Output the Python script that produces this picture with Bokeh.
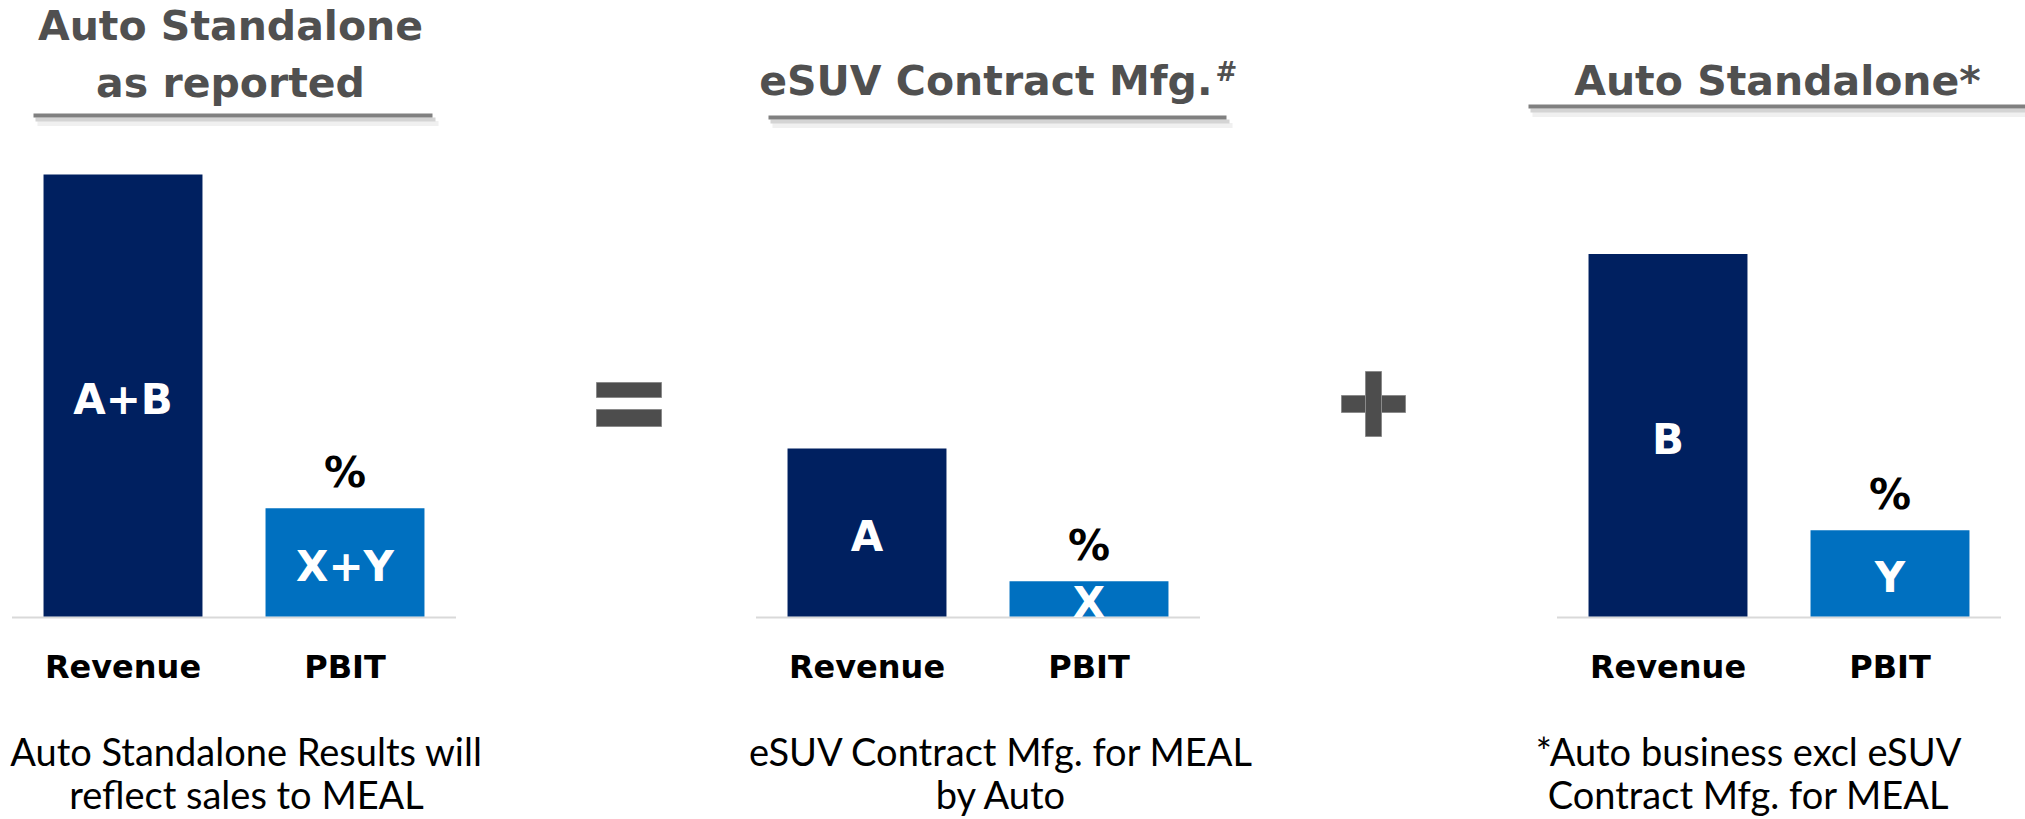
from bokeh.plotting import figure
from bokeh.models import Range1d, ColumnDataSource
from bokeh.layouts import row
from bokeh.embed import file_html
from bokeh.resources import INLINE
from bokeh.core.properties import value

# ---------------- data ----------------
categories = ["Revenue", "PBIT"]
panel_titles = [["Auto Standalone", "as reported"], ["eSUV Contract Mfg."], ["Auto Standalone*"]]
title_superscripts = ["", "#", ""]
revenue = [100, 38, 82]
pbit = [24.5, 8, 19.5]
revenue_labels = ["A+B", "A", "B"]
pbit_labels = ["X+Y", "X", "Y"]
pbit_marks = ["%", "%", "%"]
footnotes = [["Auto Standalone Results will", "reflect sales to MEAL"],
             ["eSUV Contract Mfg. for MEAL", "by Auto"],
             ["*Auto business excl eSUV", "Contract Mfg. for MEAL"]]
operators = ["=", "+"]

# ---------------- layout / style ----------------
H = 819
TOP, BOT, BASE = 0, 819, 616      # page-pixel rows: figure top, figure bottom, bar baseline
PXU = 4.42                        # pixels per value unit
STEP = 222                        # pixels per category
BAR_W = 0.716
NAVY, BLUE = "#002060", "#0070C0"
TITLE_COLOR = "#505050"
OP_COLOR = "#4d4d4d"
BOLD = value("DejaVu Sans")
REG = value("Lato")

geo = [
    dict(left=0, right=560, c0=122.5, tx=230, talign="center", tmid=[25, 82], ul=(33, 432, 115), fx=246),
    dict(left=700, right=1300, c0=866.5, tx=1212, talign="right", tmid=[80], ul=(768, 1226, 117), fx=1001,
         sup=(1215, 71)),
    dict(left=1450, right=2025, c0=1667.5, tx=1777, talign="center", tmid=[80], ul=(1528, 2040, 106), fx=1748),
]
op_geo = [
    dict(left=560, right=700, shapes=[(596, 661, 382, 397), (596, 661, 409, 426)]),
    dict(left=1300, right=1450, shapes=[(1341, 1405, 395, 412), (1365, 1381, 371, 436)]),
]
FOOT_MID = [750, 793]
CAT_MID = 666


def yv(r):
    return (BASE - r) / PXU


def base_fig(w, xr, yr):
    f = figure(width=w, height=H, x_range=xr, y_range=yr, output_backend="svg",
               toolbar_location=None, x_axis_location=None, y_axis_location=None, min_border=0)
    f.grid.visible = False
    f.outline_line_color = None
    f.background_fill_color = "white"
    f.border_fill_color = "white"
    return f


figs = []
for i, g in enumerate(geo):
    xv = lambda r, c0=g["c0"]: (r - c0) / STEP
    p = base_fig(g["right"] - g["left"], Range1d(xv(g["left"]), xv(g["right"])), Range1d(yv(BOT), yv(TOP)))
    idx = list(range(len(categories)))

    # title + underline with shadow
    for k, line in enumerate(panel_titles[i]):
        p.text(x=[xv(g["tx"])], y=[yv(g["tmid"][k])], text=[line], text_align=g["talign"],
               text_baseline="middle", text_font=BOLD, text_font_style="bold",
               text_font_size="41px", text_color=TITLE_COLOR)
    if title_superscripts[i]:
        sx, sy = g["sup"]
        p.text(x=[xv(sx)], y=[yv(sy)], text=[title_superscripts[i]], text_align="left",
               text_baseline="middle", text_font=BOLD, text_font_style="bold",
               text_font_size="26px", text_color=TITLE_COLOR)
    ux0, ux1, uy = g["ul"]
    p.segment(x0=[xv(ux0 + 4)], y0=[yv(uy + 8)], x1=[xv(ux1 + 6)], y1=[yv(uy + 8)],
              line_color="#f0f0f0", line_width=5)
    p.segment(x0=[xv(ux0 + 2)], y0=[yv(uy + 4)], x1=[xv(ux1 + 3)], y1=[yv(uy + 4)],
              line_color="#d4d4d4", line_width=4)
    p.segment(x0=[xv(ux0)], y0=[yv(uy)], x1=[xv(ux1)], y1=[yv(uy)],
              line_color="#808080", line_width=4)

    # baseline
    p.segment(x0=[-0.5], y0=[yv(BASE + 1)], x1=[len(categories) - 0.5], y1=[yv(BASE + 1)],
              line_color="#d9d9d9", line_width=2)

    # bars
    src = ColumnDataSource(dict(x=idx, top=[revenue[i], pbit[i]], color=[NAVY, BLUE],
                                label=[revenue_labels[i], pbit_labels[i]],
                                mid=[revenue[i] / 2, pbit[i] / 2]))
    p.vbar(x="x", top="top", bottom=0, width=BAR_W, fill_color="color", line_color=None, source=src)
    p.text(x="x", y="mid", text="label", source=src, text_align="center", text_baseline="middle",
           y_offset=4, text_font=BOLD, text_font_style="bold", text_font_size="42px", text_color="white")
    # % mark above PBIT
    p.text(x=[idx[1]], y=[pbit[i]], text=[pbit_marks[i]], text_align="center", text_baseline="middle",
           y_offset=-36, text_font=BOLD, text_font_style="bold", text_font_size="42px", text_color="black")

    # category labels
    p.text(x=idx, y=[yv(CAT_MID)] * len(idx), text=categories, text_align="center",
           text_baseline="middle", text_font=BOLD, text_font_style="bold",
           text_font_size="32px", text_color="black")

    # footnotes
    for k, line in enumerate(footnotes[i]):
        p.text(x=[xv(g["fx"])], y=[yv(FOOT_MID[k])], text=[line], text_align="center",
               text_baseline="middle", text_font=REG, text_font_size="38px", text_color="black")

    figs.append(p)

ops = []
for j, og in enumerate(op_geo):
    o = base_fig(og["right"] - og["left"], Range1d(og["left"], og["right"]), Range1d(BOT, TOP))
    l, r, t, b = zip(*og["shapes"])
    o.quad(left=list(l), right=list(r), top=list(t), bottom=list(b), fill_color=OP_COLOR,
           line_color="#8a8a8a", line_width=1)
    ops.append(o)

layout = row([figs[0], ops[0], figs[1], ops[1], figs[2]], spacing=0)
open("out.html", "w").write(file_html(layout, INLINE))
